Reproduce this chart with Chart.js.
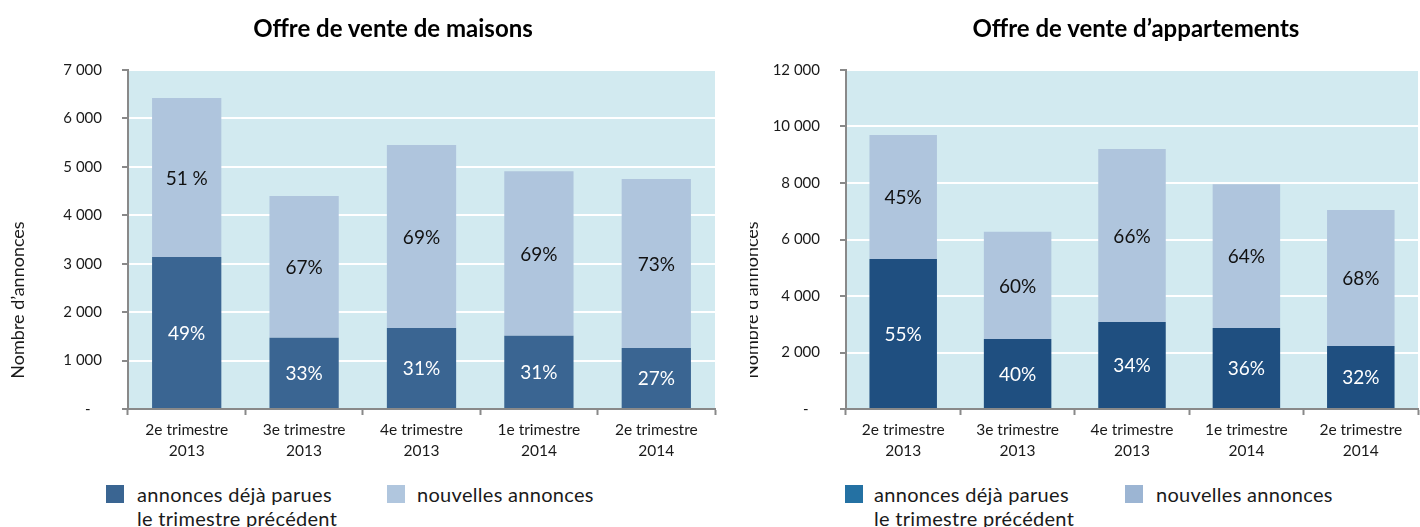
<!DOCTYPE html>
<html>
<head>
    <title>Offre de vente</title>
    <script src="https://cdn.jsdelivr.net/npm/chart.js"></script>
    <style>
        body {
            margin: 0;
            background: #fff;
            font-family: Lato, "Open Sans", sans-serif;
        }
        #page {
            position: relative;
            width: 1420px;
            height: 527px;
            overflow: hidden;
        }
        canvas {
            position: absolute;
            top: 0;
        }
        .titre {
            position: absolute;
            top: 13px;
            width: 500px;
            text-align: center;
            font-size: 24px;
            font-weight: bold;
            color: #000;
        }
        .legende {
            position: absolute;
            top: 482px;
            font-size: 20px;
            line-height: 24px;
            color: #1a1a1a;
            letter-spacing: 0.3px;
        }
        .legende span.carre {
            position: absolute;
            left: 0;
            top: 3px;
            width: 18px;
            height: 18px;
        }
        .legende div {
            position: absolute;
            top: 0;
            white-space: nowrap;
        }
    </style>
</head>
<body>
<div id="page">
    <canvas id="maisons" width="720" height="465" style="left:0"></canvas>
    <canvas id="apparts" width="700" height="465" style="left:720px"></canvas>

    <div class="titre" style="left:143px">Offre de vente de maisons</div>
    <div class="titre" style="left:886px">Offre de vente d’appartements</div>

    <div class="legende" style="left:106px">
        <span class="carre" style="background:#3a6592"></span>
        <div style="left:31px">annonces déjà parues<br>le trimestre précédent</div>
    </div>
    <div class="legende" style="left:387px">
        <span class="carre" style="background:#b0c6de"></span>
        <div style="left:30px">nouvelles annonces</div>
    </div>
    <div class="legende" style="left:845px">
        <span class="carre" style="background:#2471a3"></span>
        <div style="left:29px">annonces déjà parues<br>le trimestre précédent</div>
    </div>
    <div class="legende" style="left:1125px">
        <span class="carre" style="background:#9cb5d3"></span>
        <div style="left:31px">nouvelles annonces</div>
    </div>
</div>

<script>
    // Trimestres
    const trimestres = [
        ['2e trimestre', '2013'],
        ['3e trimestre', '2013'],
        ['4e trimestre', '2013'],
        ['1e trimestre', '2014'],
        ['2e trimestre', '2014']
    ];

    // Maisons : nombre d'annonces
    const maisonsDejaParues = [3140, 1470, 1670, 1510, 1260];
    const maisonsNouvelles = [3280, 2930, 3780, 3400, 3490];
    const maisonsPctDeja = ['49%', '33%', '31%', '31%', '27%'];
    const maisonsPctNouv = ['51 %', '67%', '69%', '69%', '73%'];
    const maisonsTicks = { max: 7000, step: 1000 };

    // Appartements : nombre d'annonces
    const appartsDejaParues = [5310, 2480, 3080, 2870, 2230];
    const appartsNouvelles = [4390, 3790, 6120, 5090, 4810];
    const appartsPctDeja = ['55%', '40%', '34%', '36%', '32%'];
    const appartsPctNouv = ['45%', '60%', '66%', '64%', '68%'];
    const appartsTicks = { max: 12000, step: 2000 };

    const POLICE = 'Lato, "Open Sans", sans-serif';
    const GRIS = '#898989';

    function formatMilliers(v) {
        if (v === 0) return '-   ';
        return String(v).replace(/\B(?=(\d{3})+(?!\d))/g, ' ');
    }

    // fond bleu clair de la zone de tracé
    const fondPlugin = {
        id: 'fond',
        beforeDraw(chart) {
            const a = chart.chartArea;
            const ctx = chart.ctx;
            ctx.save();
            ctx.fillStyle = '#d2eaf0';
            ctx.fillRect(a.left, a.top, a.right - a.left, a.bottom - a.top);
            ctx.restore();
        }
    };

    // pourcentages au milieu de chaque segment
    const etiquettesPlugin = {
        id: 'etiquettes',
        afterDatasetsDraw(chart) {
            const ctx = chart.ctx;
            ctx.save();
            ctx.font = '19px ' + POLICE;
            ctx.textAlign = 'center';
            ctx.textBaseline = 'middle';
            chart.data.datasets.forEach((ds, i) => {
                const meta = chart.getDatasetMeta(i);
                ctx.fillStyle = ds.couleurTexte;
                meta.data.forEach((bar, j) => {
                    const p = bar.getProps(['x', 'y', 'base'], true);
                    ctx.fillText(ds.pourcentages[j], p.x, (p.y + p.base) / 2 + 1);
                });
            });
            ctx.restore();
        }
    };

    // titre de l'axe vertical (placé comme dans l'original, coupé à droite)
    const titreAxePlugin = {
        id: 'titreAxe',
        afterDraw(chart, args, opts) {
            const ctx = chart.ctx;
            ctx.save();
            if (opts.clipX) {
                ctx.beginPath();
                ctx.rect(opts.clipX, 0, chart.width, chart.height);
                ctx.clip();
            }
            ctx.translate(opts.x, opts.y);
            ctx.rotate(-Math.PI / 2);
            ctx.font = '18px ' + POLICE;
            ctx.fillStyle = '#1a1a1a';
            ctx.textAlign = 'center';
            ctx.textBaseline = 'alphabetic';
            ctx.fillText("Nombre d\u2019annonces", 0, 0);
            ctx.restore();
        }
    };

    function creerGraphique(id, deja, nouv, pctDeja, pctNouv, ticks, couleurs, opts) {
        return new Chart(document.getElementById(id), {
            type: 'bar',
            data: {
                labels: trimestres,
                datasets: [{
                    label: 'annonces déjà parues le trimestre précédent',
                    data: deja,
                    backgroundColor: couleurs.fonce,
                    pourcentages: pctDeja,
                    couleurTexte: '#ffffff',
                    barPercentage: 0.59,
                    categoryPercentage: 1
                }, {
                    label: 'nouvelles annonces',
                    data: nouv,
                    backgroundColor: couleurs.clair,
                    pourcentages: pctNouv,
                    couleurTexte: '#111111',
                    barPercentage: 0.59,
                    categoryPercentage: 1
                }]
            },
            options: {
                responsive: false,
                animation: false,
                layout: { padding: { left: 0, right: opts.droite, top: 70, bottom: 0 } },
                plugins: {
                    legend: { display: false },
                    tooltip: { enabled: false },
                    title: { display: false },
                    titreAxe: { x: opts.titreX, y: 300, clipX: opts.clipX }
                },
                scales: {
                    x: {
                        stacked: true,
                        grid: {
                            drawOnChartArea: false,
                            tickColor: GRIS,
                            tickLength: 6,
                            tickWidth: 2
                        },
                        border: { color: GRIS, width: 2 },
                        ticks: {
                            color: '#1a1a1a',
                            font: { family: POLICE, size: 15.5, lineHeight: 1.35 },
                            padding: 5,
                            maxRotation: 0
                        },
                        afterFit(scale) { scale.height = 56; }
                    },
                    y: {
                        stacked: true,
                        min: 0,
                        max: ticks.max,
                        grid: {
                            color: '#ffffff',
                            lineWidth: 2,
                            tickColor: GRIS,
                            tickLength: 6,
                            tickWidth: 2
                        },
                        border: { color: GRIS, width: 2 },
                        ticks: {
                            stepSize: ticks.step,
                            color: '#1a1a1a',
                            font: { family: POLICE, size: 15 },
                            padding: 20,
                            callback: v => formatMilliers(v)
                        },
                        afterFit(scale) { scale.width = opts.largeurY; }
                    }
                }
            },
            plugins: [fondPlugin, etiquettesPlugin, titreAxePlugin]
        });
    }

    creerGraphique('maisons',
        maisonsDejaParues, maisonsNouvelles, maisonsPctDeja, maisonsPctNouv, maisonsTicks,
        { fonce: '#3a6592', clair: '#afc5dd' },
        { largeurY: 128, droite: 5, titreX: 24, clipX: 0 });

    creerGraphique('apparts',
        appartsDejaParues, appartsNouvelles, appartsPctDeja, appartsPctNouv, appartsTicks,
        { fonce: '#1f4f80', clair: '#afc5dd' },
        { largeurY: 126, droite: 2, titreX: 38, clipX: 30 });
</script>
</body>
</html>
